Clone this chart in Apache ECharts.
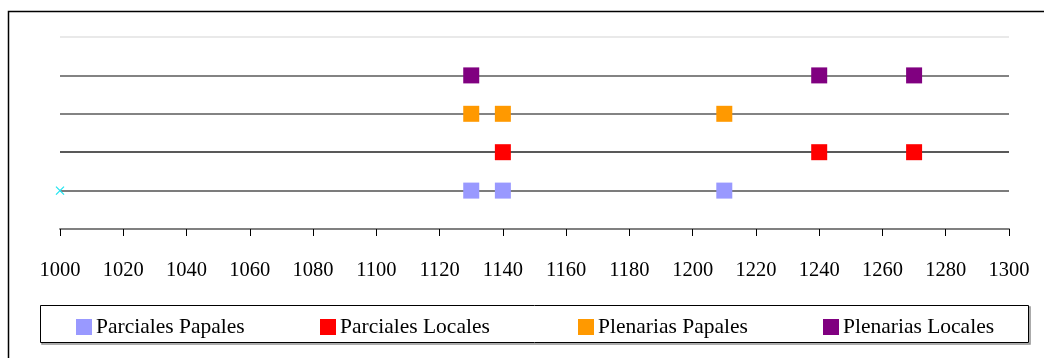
<!DOCTYPE html>
<html>
<head>
<meta charset="utf-8">
<script src="https://cdn.jsdelivr.net/npm/echarts@6/dist/echarts.min.js"></script>
<style>
  html, body { margin: 0; padding: 0; background: #fff; }
  #chart { width: 1044px; height: 358px; }
</style>
</head>
<body>
<div id="chart"></div>
<script>
// Years (x) of each council type; each type sits on its own row
const seriesNames = ['Parciales Papales', 'Parciales Locales', 'Plenarias Papales', 'Plenarias Locales'];
const parcialesPapales = [1130, 1140, 1210];
const parcialesLocales = [1140, 1240, 1270];
const plenariasPapales = [1130, 1140, 1210];
const plenariasLocales = [1130, 1240, 1270];
const rowLevels = [1, 2, 3, 4];
const baselineMarker = [1000];
const colors = ['#9999FF', '#FF0000', '#FF9900', '#800080'];
const xTicks = { min: 1000, max: 1300, step: 20 };

const serif = '"Liberation Serif", "DejaVu Serif", serif';
const allYears = [parcialesPapales, parcialesLocales, plenariasPapales, plenariasLocales];

const series = allYears.map((years, i) => ({
  name: seriesNames[i],
  type: 'scatter',
  symbol: 'rect',
  symbolSize: 16,
  itemStyle: { color: colors[i], opacity: 1 },
  data: years.map(y => [y, rowLevels[i]])
}));

series.push({
  name: 'base',
  type: 'scatter',
  symbol: 'path://M0,0L10,10M10,0L0,10',
  symbolSize: 8,
  itemStyle: { color: 'rgba(0,0,0,0)', borderColor: '#22e4f0', borderWidth: 1.3, opacity: 1 },
  data: baselineMarker.map(y => [y, rowLevels[0]])
});

const legendLefts = [76, 320, 578, 823];
const legends = seriesNames.map((n, i) => ({
  data: [n],
  left: legendLefts[i],
  top: 316,
  itemWidth: 16,
  itemHeight: 16,
  itemGap: 4,
  icon: 'rect',
  padding: 0,
  itemStyle: { opacity: 1 },
  textStyle: { fontFamily: serif, fontSize: 21.5, color: '#000', padding: [0, 0, 0, -1] }
}));

const chart = echarts.init(document.getElementById('chart'), null, { renderer: 'canvas' });
chart.setOption({
  animation: false,
  backgroundColor: '#fff',
  grid: { left: 60, right: 35, top: 37, bottom: 129 },
  xAxis: {
    type: 'value',
    min: xTicks.min,
    max: xTicks.max,
    interval: xTicks.step,
    axisLine: { lineStyle: { color: '#808080', width: 2 } },
    axisTick: { show: true, length: 7, lineStyle: { color: '#000', width: 1 } },
    axisLabel: { color: '#000', fontFamily: serif, fontSize: 20.5, margin: 31, formatter: v => String(v) },
    splitLine: { show: false }
  },
  yAxis: {
    type: 'value',
    min: 0,
    max: 5,
    interval: 1,
    axisLine: { show: false },
    axisTick: { show: false },
    axisLabel: { show: false },
    splitLine: {
      show: true,
      lineStyle: { color: ['#808080', '#505050', '#222222', '#5a5a5a', '#5a5a5a', '#e2e2e2'], width: 1.6 }
    }
  },
  legend: legends,
  graphic: [
    {
      type: 'rect',
      shape: { x: 8.5, y: 11.5, width: 1100, height: 400 },
      style: { fill: 'none', stroke: '#000', lineWidth: 1.5 },
      silent: true
    },
    {
      type: 'rect',
      shape: { x: 42, y: 307, width: 988, height: 37 },
      style: { fill: 'none', stroke: '#909090', lineWidth: 1.5 },
      silent: true,
      z: -1
    },
    {
      type: 'rect',
      shape: { x: 40.5, y: 305.5, width: 988, height: 37 },
      style: { fill: '#fff', stroke: '#000', lineWidth: 1 },
      silent: true,
      z: -1
    }
  ],
  series: series
});
</script>
</body>
</html>
